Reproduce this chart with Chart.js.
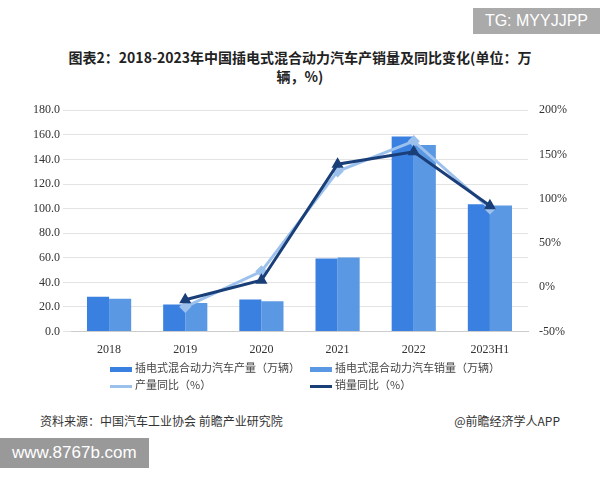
<!DOCTYPE html>
<html><head><meta charset="utf-8">
<script src="https://cdn.jsdelivr.net/npm/chart.js@4"></script>
<style>
body{margin:0;width:600px;height:480px;background:#fff;font-family:"Noto Sans CJK SC",sans-serif;position:relative;overflow:hidden}
#title{position:absolute;left:40px;top:48px;width:520px;text-align:center;font-weight:bold;font-size:14px;line-height:19px;color:#222}
#wrap{position:absolute;left:30px;top:100px;width:540px;height:260px}
#legend{position:absolute;left:110px;top:359px;width:420px;font-size:11px;color:#444}
#legend div{position:absolute;white-space:nowrap}
.sw{display:inline-block;width:22px;height:5px;vertical-align:middle;margin-right:3px}
#src{position:absolute;left:40px;top:412px;font-size:12px;color:#333}
#app{position:absolute;right:40px;top:412px;font-size:12px;color:#333}
#tg{position:absolute;right:0;top:8px;background:#aaa;color:#fff;font-family:Arial,sans-serif;font-size:16px;padding:4px 12px}
#www{position:absolute;left:0;bottom:12px;background:#999;color:#fff;font-family:Arial,sans-serif;font-size:17px;padding:5px 12px}
</style></head><body>
<div id="tg">TG: MYYJJPP</div>
<div id="title">图表2：2018-2023年中国插电式混合动力汽车产销量及同比变化(单位：万<br>辆，%)</div>
<div id="wrap"><canvas id="c"></canvas></div>
<div id="legend">
<div style="left:0;top:0"><span class="sw" style="background:#3a80e0"></span>插电式混合动力汽车产量（万辆）</div>
<div style="left:200px;top:0"><span class="sw" style="background:#5b98e4"></span>插电式混合动力汽车销量（万辆）</div>
<div style="left:0;top:17px"><span class="sw" style="background:#9cc1ec;height:3px"></span>产量同比（%）</div>
<div style="left:200px;top:17px"><span class="sw" style="background:#1a3f78;height:3px"></span>销量同比（%）</div>
</div>
<div id="src">资料来源：中国汽车工业协会 前瞻产业研究院</div>
<div id="app">@前瞻经济学人APP</div>
<div id="www">www.8767b.com</div>
<script>
const years = ['2018', '2019', '2020', '2021', '2022', '2023H1'];
const production = [28.3, 22.0, 26.0, 59.5, 158.6, 103.6];
const sales = [26.8, 23.2, 24.6, 60.3, 151.8, 102.5];
const productionGrowth = [null, -22, 18, 131, 165, 89];
const salesGrowth = [null, -14, 8, 139, 153, 92];

new Chart(document.getElementById('c'), {
    data: {
        labels: years,
        datasets: [
            { type: 'line', data: salesGrowth, yAxisID: 'y1', borderColor: '#1a3f78', backgroundColor: '#1a3f78',
              borderWidth: 3, pointStyle: 'triangle', pointRadius: 4, tension: 0 },
            { type: 'line', data: productionGrowth, yAxisID: 'y1', borderColor: '#9cc1ec', backgroundColor: '#9cc1ec',
              borderWidth: 3, pointRadius: 4, pointStyle: 'rectRot', tension: 0 },
            { type: 'bar', data: production, backgroundColor: '#3a80e0', barPercentage: 1, categoryPercentage: 0.58 },
            { type: 'bar', data: sales, backgroundColor: '#5b98e4', barPercentage: 1, categoryPercentage: 0.58 }
        ]
    },
    options: {
        responsive: true,
        maintainAspectRatio: false,
        animation: false,
        plugins: { legend: { display: false }, tooltip: { enabled: false } },
        scales: {
            x: {
                grid: { display: false },
                border: { color: '#ccc' },
                ticks: { color: '#333', font: { family: 'Liberation Serif', size: 12 } }
            },
            y: {
                min: 0, max: 180,
                ticks: { stepSize: 20, color: '#333', font: { family: 'Liberation Serif', size: 12 }, callback: (v) => v.toFixed(1) },
                grid: { color: '#e3e3e3' },
                border: { display: false }
            },
            y1: {
                position: 'right',
                min: -50, max: 200,
                ticks: { stepSize: 50, color: '#333', font: { family: 'Liberation Serif', size: 12 }, callback: (v) => v + '%' },
                grid: { display: false },
                border: { display: false }
            }
        }
    }
});
</script>
</body></html>
